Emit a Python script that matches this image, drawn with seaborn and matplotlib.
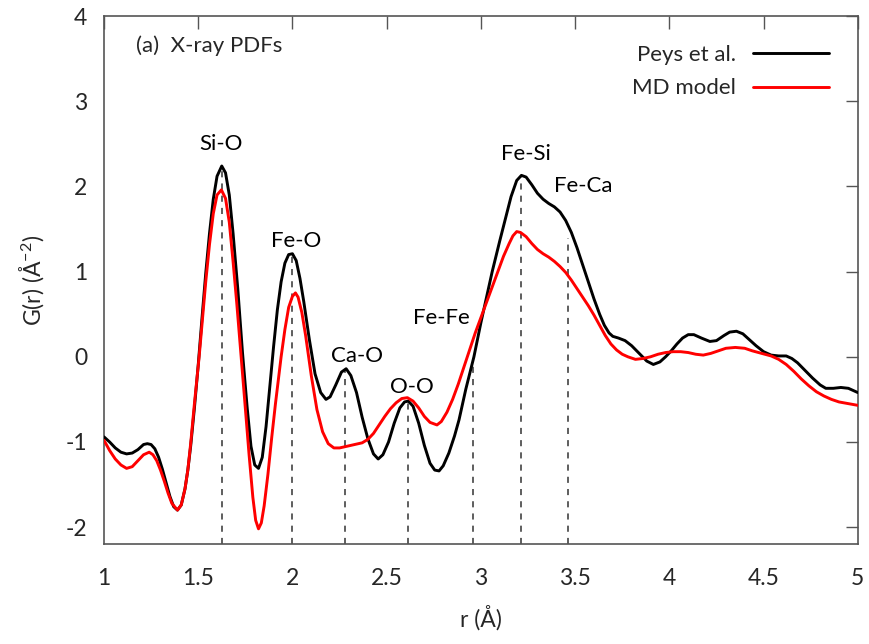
import numpy as np
import pandas as pd
import matplotlib
matplotlib.use("Agg")
import matplotlib.pyplot as plt
import seaborn as sns

# ---- data ----
r_peys = [1.00, 1.03, 1.06, 1.09, 1.12, 1.15, 1.18, 1.21, 1.23, 1.25, 1.27, 1.29, 1.31, 1.33,
          1.35, 1.37, 1.39, 1.41, 1.43, 1.445, 1.46, 1.48, 1.50, 1.52, 1.54, 1.56, 1.58, 1.60,
          1.625, 1.645, 1.665, 1.685, 1.71, 1.735, 1.76, 1.78, 1.80, 1.82, 1.84, 1.86, 1.88, 1.90,
          1.92, 1.94, 1.96, 1.98, 2.00, 2.02, 2.04, 2.06, 2.09, 2.12, 2.15, 2.178, 2.20, 2.23,
          2.26, 2.285, 2.31, 2.34, 2.37, 2.40, 2.43, 2.455, 2.48, 2.51, 2.54, 2.57, 2.595, 2.615,
          2.64, 2.67, 2.70, 2.73, 2.755, 2.778, 2.80, 2.83, 2.86, 2.884, 2.92, 2.963, 3.00, 3.03,
          3.06, 3.10, 3.13, 3.16, 3.19, 3.215, 3.24, 3.27, 3.30, 3.33, 3.36, 3.39, 3.42, 3.45,
          3.48, 3.51, 3.54, 3.57, 3.60, 3.63, 3.655, 3.68, 3.70, 3.73, 3.765, 3.80, 3.84, 3.88,
          3.915, 3.95, 3.98, 4.01, 4.04, 4.07, 4.10, 4.13, 4.17, 4.215, 4.25, 4.29, 4.32, 4.356,
          4.39, 4.42, 4.46, 4.50, 4.54, 4.58, 4.62, 4.65, 4.68, 4.72, 4.76, 4.80, 4.83, 4.87,
          4.91, 4.95, 5.00]
g_peys = [-0.94, -1.00, -1.07, -1.12, -1.14, -1.13, -1.09, -1.03, -1.02, -1.03, -1.08, -1.18, -1.32, -1.48,
          -1.64, -1.76, -1.80, -1.74, -1.55, -1.33, -1.05, -0.60, -0.10, 0.45, 0.98, 1.45, 1.85, 2.12,
          2.24, 2.16, 1.90, 1.45, 0.80, 0.05, -0.60, -1.05, -1.27, -1.31, -1.18, -0.82, -0.35, 0.12,
          0.55, 0.88, 1.10, 1.20, 1.21, 1.13, 0.92, 0.65, 0.20, -0.20, -0.42, -0.50, -0.47, -0.33,
          -0.18, -0.14, -0.22, -0.42, -0.71, -0.96, -1.14, -1.20, -1.15, -1.00, -0.78, -0.60, -0.53, -0.52,
          -0.58, -0.78, -1.04, -1.25, -1.33, -1.34, -1.28, -1.13, -0.93, -0.74, -0.38, 0.00, 0.40, 0.70,
          1.00, 1.36, 1.62, 1.88, 2.07, 2.13, 2.11, 2.02, 1.92, 1.85, 1.80, 1.76, 1.70, 1.60,
          1.46, 1.28, 1.08, 0.88, 0.68, 0.50, 0.37, 0.28, 0.24, 0.22, 0.19, 0.13, 0.04, -0.05,
          -0.09, -0.06, 0.00, 0.07, 0.15, 0.22, 0.26, 0.26, 0.22, 0.18, 0.19, 0.25, 0.29, 0.30,
          0.27, 0.21, 0.13, 0.06, 0.02, 0.01, 0.01, -0.02, -0.07, -0.16, -0.25, -0.33, -0.37, -0.37,
          -0.36, -0.37, -0.42]

r_md = [1.00, 1.03, 1.06, 1.09, 1.12, 1.15, 1.18, 1.21, 1.24, 1.26, 1.28, 1.30, 1.32, 1.34,
        1.36, 1.39, 1.41, 1.43, 1.445, 1.46, 1.48, 1.505, 1.52, 1.54, 1.56, 1.58, 1.60, 1.623,
        1.645, 1.665, 1.685, 1.705, 1.728, 1.75, 1.77, 1.79, 1.805, 1.82, 1.835, 1.85, 1.87, 1.89,
        1.91, 1.94, 1.96, 1.98, 2.00, 2.016, 2.03, 2.05, 2.07, 2.10, 2.13, 2.16, 2.19, 2.22,
        2.25, 2.29, 2.33, 2.37, 2.40, 2.43, 2.46, 2.49, 2.52, 2.55, 2.58, 2.61, 2.64, 2.67,
        2.70, 2.73, 2.767, 2.79, 2.82, 2.85, 2.88, 2.91, 2.94, 2.97, 3.00, 3.03, 3.06, 3.09,
        3.12, 3.15, 3.17, 3.19, 3.21, 3.24, 3.27, 3.30, 3.33, 3.36, 3.39, 3.42, 3.45, 3.48,
        3.51, 3.54, 3.57, 3.60, 3.63, 3.66, 3.69, 3.72, 3.75, 3.78, 3.82, 3.86, 3.90, 3.94,
        3.98, 4.02, 4.06, 4.10, 4.14, 4.18, 4.22, 4.26, 4.30, 4.35, 4.40, 4.44, 4.49, 4.54,
        4.58, 4.62, 4.66, 4.70, 4.74, 4.78, 4.82, 4.86, 4.90, 4.95, 5.00]
g_md = [-0.98, -1.10, -1.20, -1.27, -1.31, -1.29, -1.22, -1.15, -1.12, -1.15, -1.22, -1.33, -1.46, -1.60,
        -1.72, -1.80, -1.74, -1.55, -1.33, -1.02, -0.55, 0.00, 0.38, 0.88, 1.32, 1.68, 1.90, 1.96,
        1.86, 1.58, 1.12, 0.62, 0.00, -0.60, -1.15, -1.65, -1.92, -2.02, -1.95, -1.75, -1.38, -0.95,
        -0.55, 0.00, 0.32, 0.58, 0.71, 0.75, 0.70, 0.52, 0.25, -0.22, -0.62, -0.88, -1.02, -1.07,
        -1.07, -1.05, -1.03, -1.01, -0.97, -0.90, -0.80, -0.70, -0.61, -0.54, -0.49, -0.48, -0.52, -0.60,
        -0.70, -0.77, -0.80, -0.76, -0.65, -0.50, -0.32, -0.12, 0.08, 0.28, 0.46, 0.64, 0.82, 1.00,
        1.18, 1.33, 1.42, 1.47, 1.46, 1.41, 1.33, 1.26, 1.21, 1.17, 1.12, 1.06, 0.99, 0.90,
        0.80, 0.70, 0.60, 0.49, 0.37, 0.25, 0.15, 0.08, 0.03, 0.00, -0.03, -0.02, 0.00, 0.03,
        0.05, 0.06, 0.06, 0.05, 0.03, 0.02, 0.04, 0.07, 0.10, 0.11, 0.10, 0.07, 0.04, 0.01,
        -0.03, -0.09, -0.17, -0.26, -0.34, -0.41, -0.46, -0.50, -0.53, -0.55, -0.57]

pair_labels = ["Si-O", "Fe-O", "Ca-O", "O-O", "Fe-Fe", "Fe-Si", "Fe-Ca"]
pair_r = [1.625, 2.00, 2.28, 2.615, 2.96, 3.215, 3.46]
pair_top = [2.22, 1.20, -0.15, -0.53, -0.03, 2.12, 1.40]
label_x = [1.62, 2.02, 2.34, 2.635, 2.79, 3.24, 3.545]
label_y = [2.50, 1.36, 0.01, -0.35, 0.45, 2.38, 2.00]

series_names = ["Peys et al.", "MD model"]

df = pd.concat([
    pd.DataFrame({"r": r_peys, "G": g_peys, "src": series_names[0]}),
    pd.DataFrame({"r": r_md, "G": g_md, "src": series_names[1]}),
], ignore_index=True)

sns.set_style("white")
plt.rcParams["font.family"] = ["Lato", "DejaVu Sans"]
plt.rcParams["axes.unicode_minus"] = False
plt.rcParams["mathtext.default"] = "regular"

fig = plt.figure(figsize=(8.7, 6.44), dpi=100)
ax = fig.add_axes([0.1195, 0.155, 0.8665, 0.82])

# reference lines
ax.vlines(pair_r, -2.2, pair_top, colors="#333333", linestyles=(0, (4, 4)), linewidth=1.1, zorder=1)

sns.lineplot(data=df, x="r", y="G", hue="src", palette=["black", "#ff0000"],
             linewidth=2.1, ax=ax, sort=False, estimator=None, zorder=3)

for t, x, y in zip(pair_labels, label_x, label_y):
    ax.text(x, y, t, ha="center", va="center", fontsize=16, color="black")

ax.text(1.17, 3.65, "(a)  X-ray PDFs", ha="left", va="center", fontsize=16)

ax.set_xlim(1, 5)
ax.set_ylim(-2.2, 4)
ax.set_xticks([1, 1.5, 2, 2.5, 3, 3.5, 4, 4.5, 5])
ax.set_xticklabels(["1", "1.5", "2", "2.5", "3", "3.5", "4", "4.5", "5"])
ax.set_yticks([-2, -1, 0, 1, 2, 3, 4])
ax.tick_params(axis="both", direction="in", length=9, width=1, color="#555555",
               top=True, right=True, labelsize=16.5)
ax.tick_params(axis="x", pad=17)
ax.tick_params(axis="y", pad=12)
for s in ax.spines.values():
    s.set_color("#555555")
    s.set_linewidth(1.2)

ax.set_xlabel("r (Å)", fontsize=16.5, labelpad=12)
ax.set_ylabel("G(r) (Å$^{-2}$)", fontsize=16.5, labelpad=14)

leg = ax.legend(loc="upper right", frameon=False, markerfirst=False, fontsize=16,
                handlelength=3.4, handletextpad=0.8, borderaxespad=0.9, labelspacing=0.6)
leg.set_title(None)

fig.savefig("out.png", dpi=100)
